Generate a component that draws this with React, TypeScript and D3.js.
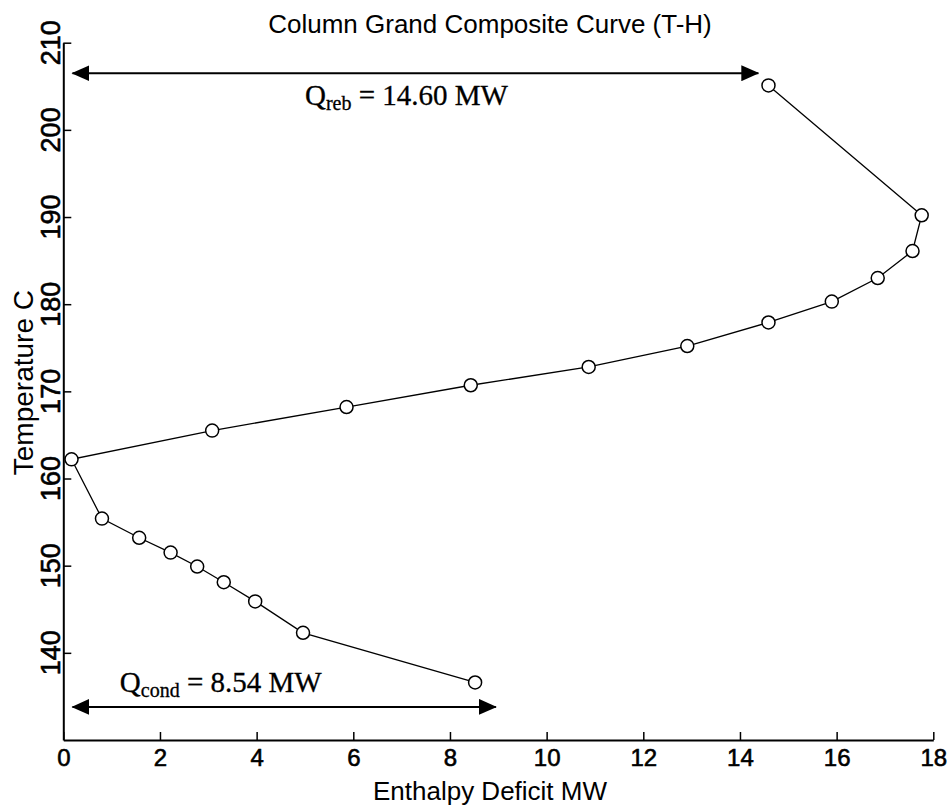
import React, { useRef, useEffect } from 'react';
import * as d3 from 'd3';

// grand composite curve points (top of column -> bottom)
const enthalpy = [14.59, 17.76, 17.57, 16.85, 15.9, 14.59, 12.91, 10.87, 8.43, 5.86, 3.08, 0.17, 0.8, 1.57, 2.22, 2.77, 3.32, 3.97, 4.96, 8.52];
const temperature = [205.1, 190.2, 186.1, 183.0, 180.3, 177.9, 175.2, 172.8, 170.7, 168.2, 165.5, 162.2, 155.4, 153.2, 151.5, 149.9, 148.1, 145.9, 142.3, 136.6];

const xTicks = [0, 2, 4, 6, 8, 10, 12, 14, 16, 18];
const yTicks = [140, 150, 160, 170, 180, 190, 200, 210];

// duty arrows: [from H, to H, at T]
const rebArrow = [0.19, 14.38, 206.5];
const condArrow = [0.19, 8.95, 133.8];
// label anchors: [H, T]
const rebLabelPos = [5.0, 202.8];
const condLabelPos = [1.17, 135.5];

const W = 952;
const H = 808;
const sans = 'Liberation Sans, Arial, Helvetica, sans-serif';
const serif = 'Liberation Serif, Times New Roman, serif';

export default function App() {
  const svgRef = useRef<SVGSVGElement>(null);

  useEffect(() => {
    const svg = d3.select(svgRef.current);
    svg.selectAll('*').remove();

    const x = d3.scaleLinear().domain([0, 18]).range([63.3, 933.3]);
    const y = d3.scaleLinear().domain([130, 210]).range([740, 42.7]);

    const defs = svg.append('defs');
    defs.append('marker')
      .attr('id', 'head')
      .attr('viewBox', '0 0 18 16')
      .attr('markerUnits', 'userSpaceOnUse')
      .attr('markerWidth', 18)
      .attr('markerHeight', 16)
      .attr('refX', 17)
      .attr('refY', 8)
      .attr('orient', 'auto-start-reverse')
      .append('path')
      .attr('d', 'M0,0 L18,8 L0,16 Z')
      .attr('fill', '#000');

    // axes: left + bottom only, ticks pointing in
    const xAxis = svg.append('g')
      .attr('transform', `translate(0,${y(130)})`)
      .call(d3.axisBottom(x).tickValues(xTicks).tickSize(-8).tickSizeOuter(0).tickFormat(d3.format('d')));
    xAxis.select('.domain').attr('stroke-width', 2);
    xAxis.selectAll('.tick line').attr('stroke-width', 1.5);
    xAxis.selectAll('.tick text')
      .attr('y', 9)
      .attr('font-size', 24)
      .attr('font-family', sans)
      .attr('stroke', '#000')
      .attr('stroke-width', 0.6);

    const yAxis = svg.append('g')
      .attr('transform', `translate(${x(0)},0)`)
      .call(d3.axisLeft(y).tickValues(yTicks).tickSize(-8).tickSizeOuter(0).tickFormat(() => ''));
    yAxis.select('.domain').attr('stroke-width', 2);
    yAxis.selectAll('.tick line').attr('stroke-width', 1.5);

    svg.append('g')
      .selectAll('text')
      .data(yTicks)
      .join('text')
      .attr('transform', d => `translate(60,${y(d)}) rotate(-90)`)
      .attr('text-anchor', 'middle')
      .attr('font-size', 27)
      .attr('font-family', sans)
      .attr('stroke', '#000')
      .attr('stroke-width', 0.6)
      .text(d => d);

    // titles
    svg.append('text')
      .attr('x', 490).attr('y', 33)
      .attr('text-anchor', 'middle')
      .attr('font-size', 26)
      .attr('font-family', sans)
      .text('Column Grand Composite Curve (T-H)');

    svg.append('text')
      .attr('x', 490).attr('y', 800)
      .attr('text-anchor', 'middle')
      .attr('font-size', 26)
      .attr('font-family', sans)
      .text('Enthalpy Deficit MW');

    svg.append('text')
      .attr('transform', `translate(33,${y(171)}) rotate(-90)`)
      .attr('text-anchor', 'middle')
      .attr('font-size', 28)
      .attr('font-family', sans)
      .text('Temperature C');

    // curve
    const pts = enthalpy.map((h, i) => [h, temperature[i]] as [number, number]);
    const line = d3.line<[number, number]>().x(d => x(d[0])).y(d => y(d[1]));
    svg.append('path')
      .attr('d', line(pts))
      .attr('fill', 'none')
      .attr('stroke', '#000')
      .attr('stroke-width', 1.3);

    svg.append('g')
      .selectAll('circle')
      .data(pts)
      .join('circle')
      .attr('cx', d => x(d[0]))
      .attr('cy', d => y(d[1]))
      .attr('r', 6.5)
      .attr('fill', '#fff')
      .attr('stroke', '#000')
      .attr('stroke-width', 1.5);

    // duty arrows
    [rebArrow, condArrow].forEach(a => {
      svg.append('line')
        .attr('x1', x(a[0])).attr('x2', x(a[1]))
        .attr('y1', y(a[2])).attr('y2', y(a[2]))
        .attr('stroke', '#000')
        .attr('stroke-width', 2)
        .attr('marker-start', 'url(#head)')
        .attr('marker-end', 'url(#head)');
    });

    const label = (pos: number[], sub: string, rest: string) => {
      const t = svg.append('text')
        .attr('x', x(pos[0])).attr('y', y(pos[1]))
        .attr('font-size', 29)
        .attr('font-family', serif)
        .attr('stroke', '#000')
        .attr('stroke-width', 0.3);
      t.append('tspan').text('Q');
      t.append('tspan').attr('font-size', 20).attr('dy', 5).text(sub);
      t.append('tspan').attr('dy', -5).text(rest);
    };
    label(rebLabelPos, 'reb', ' = 14.60 MW');
    label(condLabelPos, 'cond', ' = 8.54 MW');
  }, []);

  return (
    <svg
      ref={svgRef}
      width={W}
      height={H}
      style={{ position: 'absolute', left: 0, top: 0, background: '#fff' }}
    />
  );
}
